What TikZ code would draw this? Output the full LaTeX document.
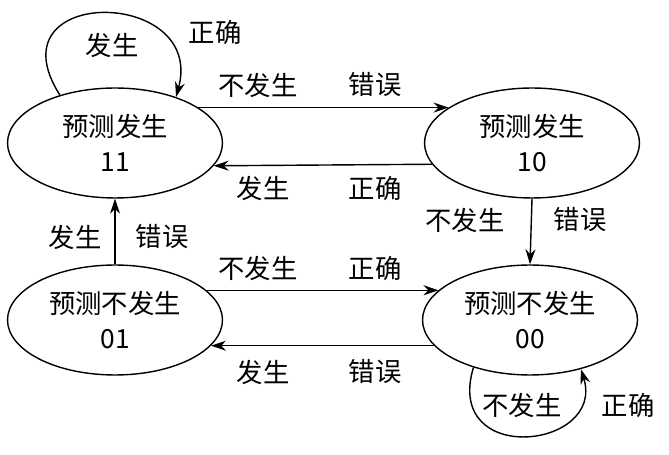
\documentclass[tikz,border=0pt]{standalone}
\usepackage{fontspec}
\setmainfont{Noto Sans CJK SC}
\usetikzlibrary{arrows.meta,shapes.geometric}
\tikzset{
  state/.style = {draw, thick, ellipse, minimum width=4.3cm, minimum height=2.2cm, align=center, inner sep=0pt, font=\fontsize{15}{20}\selectfont},
  edge/.style = {thick, -{Stealth[length=3mm, width=2mm]}},
  lbl/.style = {font=\fontsize{15}{18}\selectfont}
}
\begin{document}
\begin{tikzpicture}[x=0.02cm, y=-0.02cm]
  \useasboundingbox (0,0) rectangle (669,455);
  % states
  \node[state] (s11) at (115,143) {预测发生\\11};
  \node[state] (s10) at (532,143) {预测发生\\10};
  \node[state] (s01) at (115,320) {预测不发生\\01};
  \node[state] (s00) at (530,320) {预测不发生\\00};
  % transitions
  \draw[edge] (s11.23) -- (s10.157);
  \draw[edge] (s10.192.5) -- (s11.347.5);
  \draw[edge] (s10.south) -- (s00.north);
  \draw[edge] (s01.north) -- (s11.south);
  \draw[edge] (s01.18) -- (s00.162);
  \draw[edge] (s00.195) -- (s01.345);
  \draw[edge] (s11.139) .. controls +(-70,-110) and +(30,-110) .. (s11.37);
  \draw[edge] (s00.220) .. controls +(-30,100) and +(25,80) .. (s00.316);
  % labels
  \node[lbl] (a1) at (258,85) {不发生};
  \node[lbl] (a2) at (375,85) {错误};
  \node[lbl] (b1) at (263,188) {发生};
  \node[lbl] (b2) at (375,188) {正确};
  \node[lbl] (c1) at (465,220) {不发生};
  \node[lbl] (c2) at (580,220) {错误};
  \node[lbl] (d1) at (75,237) {发生};
  \node[lbl] (d2) at (162,237) {错误};
  \node[lbl] (e1) at (258,268) {不发生};
  \node[lbl] (e2) at (375,268) {正确};
  \node[lbl] (f1) at (263,372) {发生};
  \node[lbl] (f2) at (375,372) {错误};
  \node[lbl] (g1) at (112,45) {发生};
  \node[lbl] (g2) at (215,32) {正确};
  \node[lbl] (h1) at (522,405) {不发生};
  \node[lbl] (h2) at (628,405) {正确};
\end{tikzpicture}
\end{document}
